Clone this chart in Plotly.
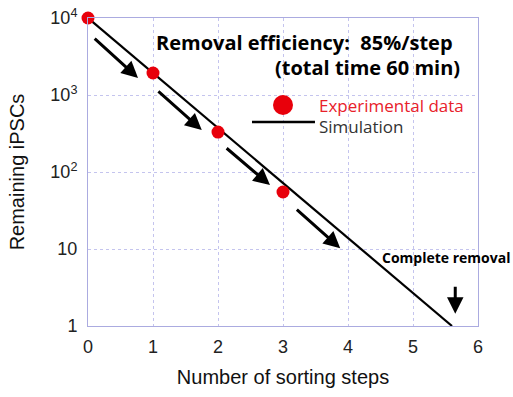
import plotly.graph_objects as go

# ---- data ----
steps = [0, 1, 2, 3]
cells = [10000, 1930, 330, 55]
sim_steps = [0, 5.6]
sim_cells = [10000, 1]
y_tickvals = [1, 10, 100, 1000, 10000]
y_ticktext = ["1", "10", "10<sup>2</sup>", "10<sup>3</sup>", "10<sup>4</sup>"]
x_tickvals = [0, 1, 2, 3, 4, 5, 6]

# step arrows (x, log10 y) tail -> head
arrow_tail_x = [0.08, 1.06, 2.11, 3.19]
arrow_tail_ly = [3.75, 3.065, 2.325, 1.53]
arrow_head_x = [0.77, 1.75, 2.80, 3.88]
arrow_head_ly = [3.22, 2.545, 1.83, 1.01]

grid_col = "#c4c4ee"
axis_col = "#ababe0"

fig = go.Figure()
fig.add_trace(go.Scatter(x=sim_steps, y=sim_cells, mode="lines",
                         line=dict(color="black", width=2.2), showlegend=False,
                         cliponaxis=False))
fig.add_trace(go.Scatter(x=steps, y=cells, mode="markers",
                         marker=dict(color="#e8000b", size=13), showlegend=False,
                         cliponaxis=False))

for tx, ty, hx, hy in zip(arrow_tail_x, arrow_tail_ly, arrow_head_x, arrow_head_ly):
    fig.add_annotation(x=hx, y=hy, ax=tx, ay=ty, xref="x", yref="y",
                       axref="x", ayref="y", showarrow=True, arrowhead=2,
                       arrowsize=1.1, arrowwidth=3, arrowcolor="black",
                       standoff=0, startstandoff=0, text="")

# complete removal arrow
fig.add_annotation(x=5.65, y=0.16, ax=5.65, ay=0.53, xref="x", yref="y",
                   axref="x", ayref="y", showarrow=True, arrowhead=2,
                   arrowsize=1.1, arrowwidth=3, arrowcolor="black", text="")
fig.add_annotation(x=0.749, y=0.224, xref="paper", yref="paper", xanchor="left",
                   yanchor="middle", showarrow=False, text="<b>Complete removal</b>",
                   font=dict(family="Open Sans", size=14, color="black"))

fig.add_annotation(x=0.941, y=0.922, xref="paper", yref="paper", xanchor="right",
                   yanchor="middle", showarrow=False,
                   text="<b>Removal efficiency:  85%/step</b>",
                   font=dict(family="Open Sans", size=20, color="black"))
fig.add_annotation(x=0.959, y=0.838, xref="paper", yref="paper", xanchor="right",
                   yanchor="middle", showarrow=False,
                   text="<b>(total time 60 min)</b>",
                   font=dict(family="Open Sans", size=20, color="black"))

# manual legend
fig.add_shape(type="circle", xref="paper", yref="paper", xsizemode="pixel",
              ysizemode="pixel", xanchor=0.5, yanchor=0.7175,
              x0=-10, x1=10, y0=-10, y1=10, fillcolor="#e8000b", line=dict(width=0))
fig.add_shape(type="line", xref="paper", yref="paper", x0=0.4205, x1=0.582,
              y0=0.662, y1=0.662, line=dict(color="black", width=2.5))
fig.add_annotation(x=0.587, y=0.7175, xref="paper", yref="paper", xanchor="left",
                   yanchor="middle", showarrow=False, text="Experimental data",
                   font=dict(family="Open Sans", size=17, color="#e8202a"))
fig.add_annotation(x=0.587, y=0.649, xref="paper", yref="paper", xanchor="left",
                   yanchor="middle", showarrow=False, text="Simulation",
                   font=dict(family="Open Sans", size=17, color="#333333"))

fig.update_xaxes(range=[0, 6], tickvals=x_tickvals, showgrid=True,
                 gridcolor=grid_col, griddash="dot", gridwidth=1,
                 showline=True, linecolor=axis_col, linewidth=1, mirror=True,
                 zeroline=False, ticks="", automargin=False, ticklabelstandoff=4,
                 tickfont=dict(family="Liberation Sans", size=18, color="#222"),
                 title=dict(text="Number of sorting steps", standoff=14,
                            font=dict(family="Liberation Sans", size=20, color="#111")))
fig.update_yaxes(type="log", range=[0, 4], tickvals=y_tickvals, ticktext=y_ticktext,
                 showgrid=True, gridcolor=grid_col, griddash="dot", gridwidth=1,
                 showline=True, linecolor=axis_col, linewidth=1, mirror=True,
                 zeroline=False, ticks="", automargin=False, ticklabelstandoff=6,
                 tickfont=dict(family="Liberation Sans", size=18, color="#222"),
                 title=dict(text="Remaining iPSCs", standoff=20,
                            font=dict(family="Liberation Sans", size=20, color="#111")))
fig.update_layout(width=513, height=397, margin=dict(l=88, r=35, t=18, b=71),
                  plot_bgcolor="white", paper_bgcolor="white", hovermode=False)
fig.write_html("out.html", config={"displayModeBar": False, "staticPlot": True},
               post_script="document.body.style.margin='0px';"
                           "document.body.style.overflow='hidden';")
